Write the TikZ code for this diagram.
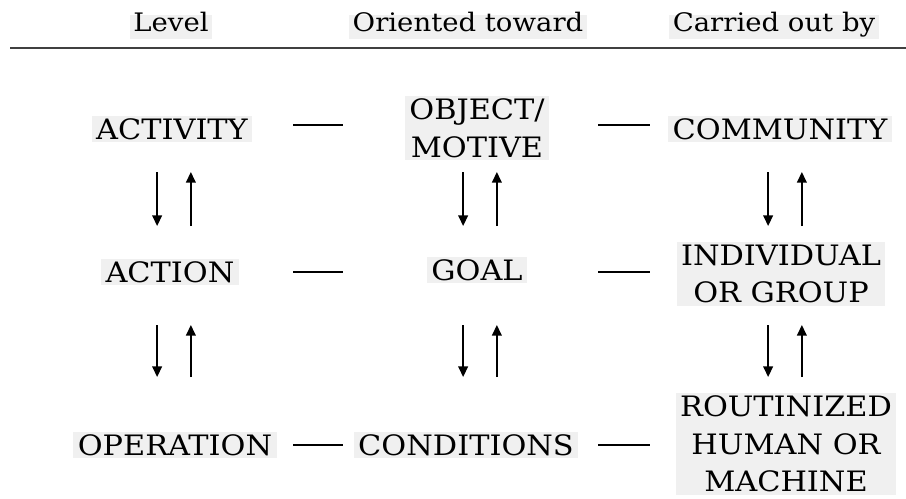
\documentclass[tikz,border=0pt]{standalone}
\usepackage{fontspec}
\setmainfont{DejaVu Serif}[FakeStretch=1.08]
\usetikzlibrary{arrows.meta}

\begin{document}
\begin{tikzpicture}[>={Triangle[length=6pt,width=5.5pt]},x=0.02cm,y=-0.02cm,
  lbl/.style={fill=black!6,inner xsep=2.5pt,inner ysep=1.5pt,align=center,font=\fontsize{16}{21.4}\selectfont},
  hdr/.style={fill=black!6,inner sep=2pt,text height=0.75em,text depth=0.25em,font=\fontsize{14.5}{17}\selectfont},
  tie/.style={line width=0.8pt},
  link/.style={line width=0.85pt,->}]
\useasboundingbox (0,0) rectangle (906,498);
% column heads
\node[hdr] (lvl) at (171,27) {Level};
\node[hdr] (ori) at (468,27) {Oriented toward};
\node[hdr] (car) at (774,27) {Carried out by};
\coordinate (rl) at (10,48);
\coordinate (rr) at (906,48);
\draw[line width=1.7pt,black!75] (rl) -- (rr);
% three levels
\node[lbl] (act)  at (172,129) {ACTIVITY};
\node[lbl] (obj)  at (477,128) {OBJECT/\\MOTIVE};
\node[lbl] (com)  at (780,129) {COMMUNITY};
\node[lbl] (acn)  at (170,272) {ACTION};
\node[lbl] (goal) at (477,270) {GOAL};
\node[lbl] (ind)  at (781,274) {INDIVIDUAL\\OR GROUP};
\node[lbl] (op)   at (175,445) {OPERATION};
\node[lbl] (cond) at (466,445) {CONDITIONS};
\node[lbl] (rout) at (786,444) {ROUTINIZED\\HUMAN OR\\MACHINE};
% dashes between columns
\foreach \r/\y in {1/125,2/272,3/445} {
  \coordinate (da\r) at (293,\y); \coordinate (db\r) at (343,\y);
  \coordinate (dc\r) at (598,\y); \coordinate (dd\r) at (650,\y);
  \draw[tie] (da\r) -- (db\r);
  \draw[tie] (dc\r) -- (dd\r);
}
% down and up arrows
\foreach \x [count=\i] in {174,480,785} {
  \foreach \ya/\yb [count=\j] in {172/226,325/377} {
    \coordinate (t\i\j) at (\x,\ya);
    \coordinate (b\i\j) at (\x,\yb);
    \draw[link] ([xshift=-9.6pt]t\i\j) -- ([xshift=-9.6pt]b\i\j);
    \draw[link] ([xshift=9.6pt]b\i\j) -- ([xshift=9.6pt]t\i\j);
  }
}
\end{tikzpicture}
\end{document}
